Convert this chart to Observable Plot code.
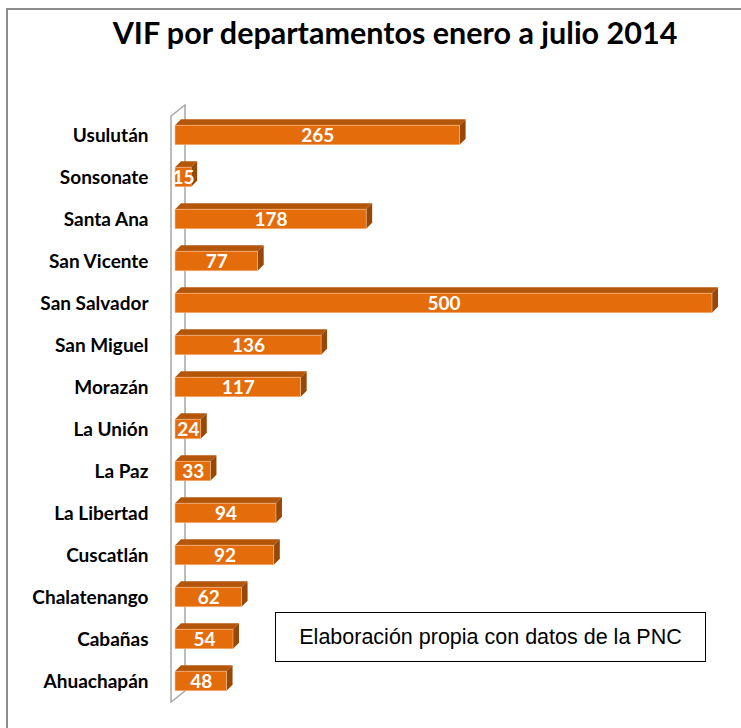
<!DOCTYPE html>
<html>
<head>
<meta charset="utf-8">
<script src="https://cdn.jsdelivr.net/npm/d3@7"></script>
<script src="https://cdn.jsdelivr.net/npm/@observablehq/plot@0.6"></script>
<style>
  html, body { margin: 0; padding: 0; background: #fff; }
  #wrap { position: relative; width: 741px; height: 728px; overflow: hidden; }
  #border { position: absolute; left: 6px; top: 8px; width: 800px; height: 800px; border-left: 2px solid #8c8c8c; border-top: 2px solid #8c8c8c; }
  #title { position: absolute; left: 0; top: 14px; width: 790px; text-align: center; font-family: Lato, sans-serif; font-weight: bold; font-size: 30.5px; color: #000; }
  #note { position: absolute; left: 275px; top: 612px; width: 429px; height: 48px; border: 1.5px solid #000; font-family: "Liberation Sans", Arial, sans-serif; font-size: 21.5px; line-height: 48px; text-align: center; color: #000; background: #fff; }
  #chart { position: absolute; left: 0; top: 0; }
</style>
</head>
<body>
<div id="wrap">
  <div id="border"></div>
  <div id="chart"></div>
  <div id="title">VIF por departamentos enero a julio 2014</div>
  <div id="note">Elaboración propia con datos de la PNC</div>
</div>
<script>
const departamentos = ["Usulután","Sonsonate","Santa Ana","San Vicente","San Salvador","San Miguel","Morazán","La Unión","La Paz","La Libertad","Cuscatlán","Chalatenango","Cabañas","Ahuachapán"];
const casos = [265, 15, 178, 77, 500, 136, 117, 24, 33, 94, 92, 62, 54, 48];
const data = departamentos.map((d, i) => ({dept: d, value: casos[i]}));

const frontColor = "#E46C0A";
const topColor = "#B4560A";
const sideColor = "#974706";
const depth = 6;
const inset = 11.2;

function wall(index, scales) {
  const x = scales.x, y = scales.y;
  const step = y(departamentos[1]) - y(departamentos[0]);
  const top = y(departamentos[0]);
  const bottom = y(departamentos[departamentos.length - 1]) + step;
  const xf = x(0) - 4, xb = x(0) + 10;
  const g = d3.create("svg:g").attr("fill", "none").attr("stroke", "#a6a6a6").attr("stroke-width", 1.5);
  g.append("path").attr("d", `M${xf},${bottom} L${xf},${top + 2} L${xb},${top - 9} L${xb},${bottom - 11} Z`);
  return g.node();
}

function faces(index, scales) {
  const x = scales.x, y = scales.y;
  const step = y(departamentos[1]) - y(departamentos[0]);
  const g = d3.create("svg:g");
  for (const d of data) {
    const x0 = x(0), x1 = x(d.value);
    const yt = y(d.dept) + inset, yb = y(d.dept) + step - inset;
    g.append("polygon")
      .attr("points", [[x0, yt], [x0 + depth, yt - depth], [x1 + depth, yt - depth], [x1, yt]].join(" "))
      .attr("fill", topColor);
    g.append("polygon")
      .attr("points", [[x1, yt], [x1 + depth, yt - depth], [x1 + depth, yb - depth], [x1, yb]].join(" "))
      .attr("fill", sideColor);
  }
  return g.node();
}

const chart = Plot.plot({
  width: 741,
  height: 728,
  marginLeft: 175,
  marginRight: 29,
  marginTop: 111,
  marginBottom: 23,
  style: {fontFamily: "Lato, sans-serif", background: "transparent", overflow: "visible"},
  x: {domain: [0, 500], axis: null},
  y: {domain: departamentos, padding: 0, label: null},
  marks: [
    wall,
    faces,
    Plot.barX(data, {x: "value", y: "dept", fill: frontColor, insetTop: inset, insetBottom: inset, stroke: "#f6c39a", strokeWidth: 0.6}),
    Plot.text(data, {x: d => d.value / 2, y: "dept", text: d => String(d.value), fill: "white", fontWeight: "bold", fontSize: 19}),
    Plot.axisY({tickSize: 0, tickPadding: 27, fontSize: 19, fontWeight: "bold", fill: "#000", label: null})
  ]
});
document.getElementById("chart").appendChild(chart);
</script>
</body>
</html>
